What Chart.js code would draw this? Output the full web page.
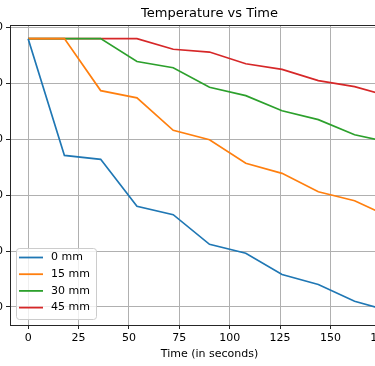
<!DOCTYPE html>
<html>
<head>
<meta charset="utf-8">
<script src="https://cdn.jsdelivr.net/npm/chart.js@4"></script>
<style>
html, body { margin: 0; padding: 0; background: #fff; overflow: hidden; }
#wrap { position: absolute; left: -40px; top: 0; width: 499px; height: 366px; }
</style>
</head>
<body>
<div id="wrap"><canvas id="myChart"></canvas></div>
<script>
const times = [0, 18, 36, 54, 72, 90, 108, 126, 144, 162, 180];
const temp0mm = [98, 77.1, 76.4, 68.0, 66.5, 61.2, 59.6, 55.8, 54.0, 51.0, 49.2];
const temp15mm = [98, 98, 88.7, 87.4, 81.6, 79.9, 75.7, 73.9, 70.6, 69.0, 66.0];
const temp30mm = [98, 98, 98, 93.9, 92.8, 89.3, 87.8, 85.1, 83.5, 80.8, 79.4];
const temp45mm = [98, 98, 98, 98, 96.1, 95.6, 93.5, 92.5, 90.5, 89.4, 87.6];
const seriesLabels = ['0 mm', '15 mm', '30 mm', '45 mm'];
const seriesColors = ['#1f77b4', '#ff7f0e', '#2ca02c', '#d62728'];
const xTicks = [0, 25, 50, 75, 100, 125, 150, 175];
const yTicks = [50, 60, 70, 80, 90, 100];

Chart.defaults.font.family = '"DejaVu Sans", sans-serif';
Chart.defaults.color = '#000';

// box around the plot, like matplotlib spines
const framePlugin = {
  id: 'frame',
  afterDatasetsDraw(chart) {
    const {ctx, chartArea: a} = chart;
    ctx.save();
    ctx.strokeStyle = '#262626';
    ctx.lineWidth = 1;
    ctx.strokeRect(Math.round(a.left) + 0.5, Math.round(a.top) + 0.5,
      Math.round(a.right - a.left), Math.round(a.bottom - a.top));
    ctx.restore();
  }
};

// legend inside the plot, lower left
const legendBox = {
  id: 'legendBox',
  afterDraw(chart) {
    const {ctx, chartArea: a} = chart;
    const w = 80, h = 71;
    const x0 = Math.round(a.left) + 6, y0 = Math.round(a.bottom) - 6 - h;
    ctx.save();
    ctx.beginPath();
    ctx.roundRect(x0 + 0.5, y0 + 0.5, w, h, 3);
    ctx.fillStyle = 'rgba(255,255,255,0.8)';
    ctx.fill();
    ctx.strokeStyle = '#cccccc';
    ctx.lineWidth = 1;
    ctx.stroke();
    ctx.font = '11px "DejaVu Sans"';
    ctx.textBaseline = 'middle';
    chart.data.datasets.forEach((ds, i) => {
      const y = y0 + 9.5 + i * 16.7;
      ctx.strokeStyle = ds.borderColor;
      ctx.lineWidth = 1.8;
      ctx.beginPath();
      ctx.moveTo(x0 + 3, y);
      ctx.lineTo(x0 + 27, y);
      ctx.stroke();
      ctx.fillStyle = '#000';
      ctx.fillText(ds.label, x0 + 35, y);
    });
    ctx.restore();
  }
};

const allSeries = [temp0mm, temp15mm, temp30mm, temp45mm];

const ctx = document.getElementById('myChart');
new Chart(ctx, {
  type: 'line',
  data: {
    datasets: allSeries.map((vals, i) => ({
      label: seriesLabels[i],
      data: vals.map((v, j) => ({x: times[j], y: v})),
      borderColor: seriesColors[i],
      backgroundColor: seriesColors[i],
      borderWidth: 1.7,
      pointRadius: 0,
      tension: 0,
      fill: false
    }))
  },
  options: {
    responsive: true,
    maintainAspectRatio: false,
    animation: false,
    layout: { padding: { left: 0, right: 50, top: 0, bottom: 0 } },
    plugins: {
      legend: { display: false },
      tooltip: { enabled: false },
      title: {
        display: true,
        fullSize: false,
        text: 'Temperature vs Time',
        color: '#000',
        font: { size: 13, weight: 'normal' },
        padding: { top: 6, bottom: 3.4 }
      }
    },
    scales: {
      x: {
        type: 'linear',
        min: -9,
        max: 189,
        afterBuildTicks: s => { s.ticks = xTicks.map(v => ({value: v})); },
        afterFit: s => { s.height = 41; },
        border: { display: false },
        grid: { color: '#b0b0b0', tickColor: '#262626', tickLength: 4 },
        ticks: { font: { size: 11 }, color: '#000', padding: 3, maxRotation: 0, autoSkip: false },
        title: {
          display: true,
          text: 'Time (in seconds)',
          color: '#000',
          font: { size: 11 },
          padding: { top: 0, bottom: 5 }
        }
      },
      y: {
        type: 'linear',
        min: 46.76,
        max: 100.44,
        afterBuildTicks: s => { s.ticks = yTicks.map(v => ({value: v})); },
        afterFit: s => { s.width = 50; },
        border: { display: false },
        grid: { color: '#b0b0b0', tickColor: '#262626', tickLength: 4 },
        ticks: { font: { size: 11 }, color: '#000', padding: 3 }
      }
    }
  },
  plugins: [framePlugin, legendBox]
});
</script>
</body>
</html>
